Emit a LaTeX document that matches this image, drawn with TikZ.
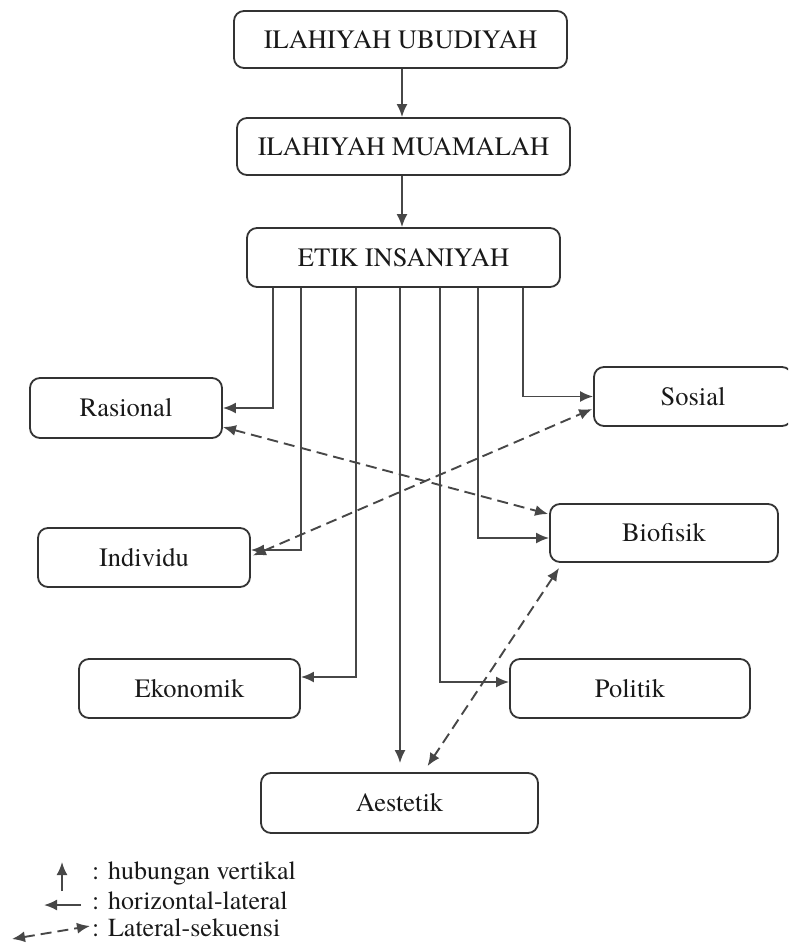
\documentclass[tikz,border=0pt]{standalone}
\usepackage{fontspec}
\setmainfont{TeX Gyre Termes}
\usetikzlibrary{arrows.meta,calc}

\tikzset{
  box/.style={draw=black!80, line width=1.8pt, rounded corners=10pt, inner sep=0pt,
              font=\fontsize{26.5}{31}\selectfont, text=black!90},
  conn/.style={draw=black!72, line width=1.9pt,
               -{Latex[length=13pt,width=11pt]}},
  seq/.style={draw=black!72, line width=1.9pt, dash pattern=on 11pt off 6pt,
              {Latex[length=13pt,width=11pt]}-{Latex[length=13pt,width=11pt]}},
  legendtext/.style={anchor=west, inner sep=0pt, font=\fontsize{26}{30}\selectfont, text=black!90}
}

\begin{document}
\begin{tikzpicture}[x=1pt,y=-1pt]
\useasboundingbox (0,0) rectangle (788,952);
\clip (0,0) rectangle (788,952);

% hierarchy of boxes
\node[box, minimum width=333pt, minimum height=57pt] (u) at (400.5,39.5) {ILAHIYAH UBUDIYAH};
\node[box, minimum width=333pt, minimum height=57pt] (m) at (403.5,146.5) {ILAHIYAH MUAMALAH};
\node[box, minimum width=313pt, minimum height=59pt] (e) at (403.5,257.5) {ETIK INSANIYAH};

% the seven dimensions
\node[box, minimum width=192pt, minimum height=60pt] (r) at (126,408) {Rasional};
\node[box, minimum width=212pt, minimum height=59pt] (i) at (144,557.5) {Individu};
\node[box, minimum width=198pt, minimum height=59pt] (s) at (693,396.5) {Sosial};
\node[box, minimum width=228pt, minimum height=58pt] (b) at (664,533) {Biofisik};
\node[box, minimum width=221pt, minimum height=59pt] (k) at (189.5,688.5) {Ekonomik};
\node[box, minimum width=240pt, minimum height=59pt] (p) at (630,688.5) {Politik};
\node[box, minimum width=277pt, minimum height=60pt] (a) at (399.5,803) {Aestetik};

% vertical relations
\draw[conn] (u.south -| 402,0) -- (m.north -| 402,0);
\draw[conn] (m.south -| 402,0) -- (e.north -| 402,0);

% horizontal-lateral relations
\draw[conn] (e.south -| 273,0) |- (r.east);
\draw[conn] (e.south -| 301,0) |- ($(i.east)+(0,-7.5)$);
\draw[conn] (e.south -| 356,0) |- ($(k.east)+(0,-11.5)$);
\draw[conn, shorten >=9pt] (e.south -| 400,0) -- (a.north -| 400,0);
\draw[conn] (e.south -| 440,0) |- ($(p.west)+(0,-6.5)$);
\draw[conn] (e.south -| 478,0) |- ($(b.west)+(0,5)$);
\draw[conn] (e.south -| 523,0) |- (s.west);

% lateral-sequence relations
\draw[seq] ($(r.east)+(0,19)$) -- ($(b.west)+(-1,-19)$);
\draw[seq] ($(i.east)+(2,-2)$) -- ($(s.west)+(-1,12.5)$);
\draw[seq] ($(b.south west)+(10,5)$) -- ($(a.north)+(28,-6)$);

% legend
\coordinate (v0) at (62,891);
\coordinate (v1) at (62,862);
\draw[conn] (v0) -- (v1);
\coordinate (h0) at (81,905);
\coordinate (h1) at (44,905);
\draw[conn] (h0) -- (h1);
\coordinate (d0) at (12,939);
\coordinate (d1) at (90,926);
\draw[seq] (d0) -- (d1);
\node[legendtext] (l1) at (92,873) {: hubungan vertikal};
\node[legendtext] (l2) at (92,901) {: horizontal-lateral};
\node[legendtext] (l3) at (92,928) {: Lateral-sekuensi};
\end{tikzpicture}
\end{document}
